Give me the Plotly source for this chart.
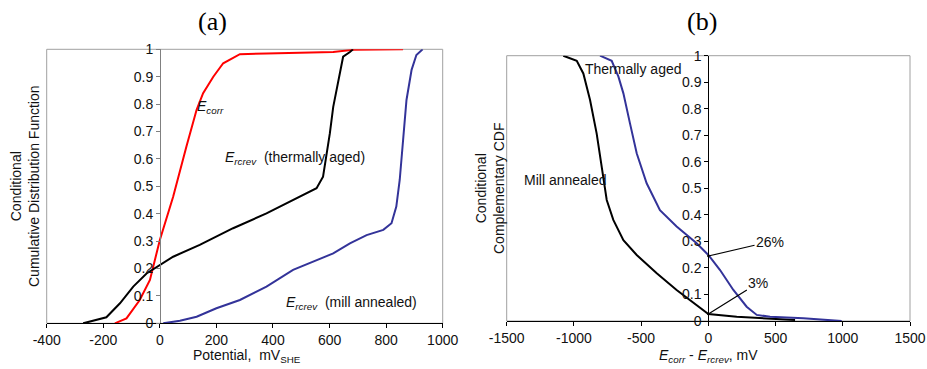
import plotly.graph_objects as go

# ---------------- data: panel (a) ----------------
ecorr_x = [-159, -118, -71, -35, 0, 47, 94, 130, 153, 189, 224, 283, 377, 613, 683, 860]
ecorr_y = [0.0, 0.018, 0.085, 0.158, 0.304, 0.462, 0.645, 0.779, 0.84, 0.90, 0.949, 0.982, 0.985, 0.99, 0.998, 1.0]

aged_x = [-271, -189, -141, -94, -47, 0, 47, 141, 200, 259, 377, 495, 554, 577, 589, 601, 613, 631, 648, 672, 683]
aged_y = [0.0, 0.022, 0.073, 0.134, 0.182, 0.213, 0.243, 0.286, 0.316, 0.347, 0.401, 0.462, 0.493, 0.535, 0.608, 0.693, 0.79, 0.888, 0.973, 0.99, 1.0]

mill_x = [12, 71, 130, 200, 283, 377, 471, 554, 613, 672, 731, 790, 819, 836, 848, 860, 872, 890, 907, 929]
mill_y = [0.0, 0.009, 0.024, 0.055, 0.085, 0.134, 0.195, 0.231, 0.255, 0.292, 0.322, 0.341, 0.365, 0.426, 0.523, 0.669, 0.815, 0.925, 0.979, 1.0]

# ---------------- data: panel (b) ----------------
ccdf_mill_x = [-1079, -979, -930, -880, -831, -793, -756, -707, -632, -533, -384, -236, -87, 0, 211, 459, 645]
ccdf_mill_y = [1.0, 0.981, 0.933, 0.833, 0.707, 0.582, 0.456, 0.381, 0.305, 0.249, 0.18, 0.117, 0.06, 0.026, 0.016, 0.008, 0.004]

ccdf_aged_x = [-806, -719, -669, -632, -583, -533, -459, -360, -236, -87, 0, 87, 186, 285, 360, 459, 707, 992]
ccdf_aged_y = [1.0, 0.981, 0.921, 0.858, 0.745, 0.632, 0.519, 0.418, 0.356, 0.293, 0.249, 0.192, 0.117, 0.054, 0.023, 0.016, 0.01, 0.0]

# ---------------- ticks ----------------
y_tickvals = [0, 0.1, 0.2, 0.3, 0.4, 0.5, 0.6, 0.7, 0.8, 0.9, 1]
y_ticktext = ["0", "0.1", "0.2", "0.3", "0.4", "0.5", "0.6", "0.7", "0.8", "0.9", "1"]
xa_tickvals = [-400, -200, 0, 200, 400, 600, 800, 1000]
xb_tickvals = [-1500, -1000, -500, 0, 500, 1000, 1500]

W, H = 927, 369
FONT = "Liberation Sans, Arial, sans-serif"
RED = "#ff0000"
BLACK = "#000000"
BLUE = "#333399"

def px_x(p):
    return p / W

def px_y(p):
    return 1 - p / H

xa_dom = [px_x(46.7), px_x(442.7)]
ya_dom = [px_y(323.3), px_y(49.3)]
xb_dom = [px_x(506.7), px_x(910)]
yb_dom = [px_y(321), px_y(55.7)]

fig = go.Figure()
fig.add_trace(go.Scatter(x=ecorr_x, y=ecorr_y, mode="lines", line=dict(color=RED, width=2), xaxis="x", yaxis="y"))
fig.add_trace(go.Scatter(x=aged_x, y=aged_y, mode="lines", line=dict(color=BLACK, width=2), xaxis="x", yaxis="y"))
fig.add_trace(go.Scatter(x=mill_x, y=mill_y, mode="lines", line=dict(color=BLUE, width=2), xaxis="x", yaxis="y"))
fig.add_trace(go.Scatter(x=ccdf_mill_x, y=ccdf_mill_y, mode="lines", line=dict(color=BLACK, width=2), xaxis="x2", yaxis="y2"))
fig.add_trace(go.Scatter(x=ccdf_aged_x, y=ccdf_aged_y, mode="lines", line=dict(color=BLUE, width=2), xaxis="x2", yaxis="y2"))

tickfont = dict(family=FONT, size=14, color="#111111")

def xax(dom, rng, vals, anchor):
    return dict(domain=dom, range=rng, tickvals=vals, ticktext=[str(v) for v in vals],
                showline=True, linecolor="black", linewidth=1, ticks="outside", ticklen=4,
                tickcolor="black", showgrid=False, zeroline=False, anchor=anchor,
                tickfont=tickfont, fixedrange=True, automargin=False)

def yax(dom, pos, lc):
    return dict(domain=dom, range=[0, 1], tickvals=y_tickvals, ticktext=y_ticktext,
                showline=True, linecolor=lc, linewidth=1, ticks="outside", ticklen=4,
                tickcolor=lc, showgrid=False, zeroline=False, anchor="free", position=pos,
                tickfont=tickfont, fixedrange=True, automargin=False)

fig.update_layout(
    template="none",
    width=W, height=H, margin=dict(l=0, r=0, t=0, b=0, pad=0), autosize=False,
    paper_bgcolor="white", plot_bgcolor="white", showlegend=False,
    xaxis=xax(xa_dom, [-400, 1000], xa_tickvals, "y"),
    yaxis=yax(ya_dom, px_x(160), "#808080"),
    xaxis2=xax(xb_dom, [-1500, 1500], xb_tickvals, "y2"),
    yaxis2=yax(yb_dom, px_x(708.3), "black"),
)

# plot-area borders
for xr, yr in (("x domain", "y domain"), ("x2 domain", "y2 domain")):
    fig.add_shape(type="rect", xref=xr, yref=yr, x0=0, x1=1, y0=0, y1=1,
                  line=dict(color="#a0a0a0", width=1), layer="below")

tf = dict(family=FONT, size=14, color="#111111")
serif = dict(family="Liberation Serif, Times New Roman, serif", size=26, color="black")
C = dict(xanchor="center", yanchor="middle", showarrow=False)
L = dict(xanchor="left", yanchor="middle", showarrow=False)
ann = []
# panel titles
ann.append(dict(text="(a)", x=px_x(212.5), y=px_y(22), xref="paper", yref="paper", font=serif, **C))
ann.append(dict(text="(b)", x=px_x(701.5), y=px_y(22), xref="paper", yref="paper", font=serif, **C))
# axis titles
ann.append(dict(text="Conditional<br>Cumulative Distribution Function", x=px_x(25), y=px_y(186),
                xref="paper", yref="paper", textangle=-90, font=tf, **C))
ann.append(dict(text="Conditional<br>Complementary CDF", x=px_x(490), y=px_y(189),
                xref="paper", yref="paper", textangle=-90, font=tf, **C))
ann.append(dict(text="Potential,\u00a0 mV<sub>SHE</sub>", x=px_x(247), y=px_y(356),
                xref="paper", yref="paper", font=tf, **C))
ann.append(dict(text="<i>E</i><sub><i>corr</i></sub> - <i>E</i><sub><i>rcrev</i></sub>, mV", x=px_x(708), y=px_y(356),
                xref="paper", yref="paper", font=tf, **C))
# curve labels panel (a)
ann.append(dict(text="<i>E</i><sub><i>corr</i></sub>", x=124, y=0.79, xref="x", yref="y", font=tf, **L))
ann.append(dict(text="<i>E</i><sub><i>rcrev</i></sub>\u00a0 (thermally aged)", x=222, y=0.605, xref="x", yref="y",
                font=tf, **L))
ann.append(dict(text="<i>E</i><sub><i>rcrev</i></sub>\u00a0 (mill annealed)", x=438, y=0.075, xref="x", yref="y",
                font=tf, **L))
# curve labels panel (b)
ann.append(dict(text="Thermally aged", x=-930, y=0.95, xref="x2", yref="y2", font=tf, **L))
ann.append(dict(text="Mill annealed", x=-1389, y=0.532, xref="x2", yref="y2", font=tf, **L))
ann.append(dict(text="26%", x=0, y=0.245, xref="x2", yref="y2", ax=459, ay=0.299, axref="x2", ayref="y2",
                showarrow=True, arrowhead=6, arrowsize=0.5, arrowwidth=1.2, arrowcolor="black", font=tf))
ann.append(dict(text="3%", x=0, y=0.026, xref="x2", yref="y2", ax=372, ay=0.144, axref="x2", ayref="y2",
                showarrow=True, arrowhead=6, arrowsize=0.5, arrowwidth=1.2, arrowcolor="black", font=tf))
fig.update_layout(annotations=ann)

fig.write_html("out.html", config={"displayModeBar": False},
               post_script="document.body.style.margin='0px';document.body.style.padding='0px';")
